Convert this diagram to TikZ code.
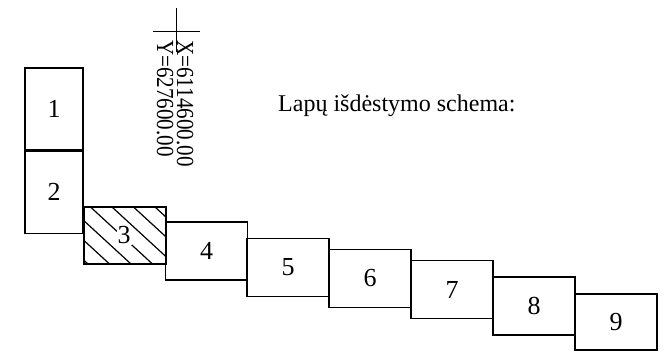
\documentclass[tikz,border=0pt]{standalone}
\usepackage{fontspec}
\setmainfont{Liberation Serif}
\usepackage{tikz}
\usetikzlibrary{positioning, calc}

\begin{document}
\begin{tikzpicture}[
			x=1pt, y=-1pt,
			sheet/.style={rectangle, draw, line width=1.2pt, minimum width=82pt, minimum height=58pt, inner sep=0pt, font=\fontsize{26}{26}\selectfont},
			tallsheet/.style={sheet, minimum width=58pt, minimum height=82pt},
			coordtext/.style={anchor=base west, rotate=-90, inner sep=0pt, font=\fontsize{24.5}{24.5}\selectfont},
			hatch/.style={line width=1.2pt}
		]
		\useasboundingbox (0,0) rectangle (668,352);
		% grid cross with coordinates
		\coordinate (cross) at (176,32);
		\draw[line width=1pt] ($(cross)+(0,-24)$) -- ($(cross)+(0,20)$);
		\draw[line width=1pt] ($(cross)+(-23,0)$) -- ($(cross)+(24,0)$);
		\node[coordtext] (xval) at (177,40) {\scalebox{0.86}[1]{X=6114600.00}};
		\node[coordtext] (yval) at (157,40) {\scalebox{0.86}[1]{Y=627600.00}};
		
		\node[anchor=base west, inner sep=0pt, font=\fontsize{24}{24}\selectfont] (title) at (278,112) {Lapų išdėstymo schema:};
		
		% sheets
		\node[tallsheet] (s1) at (54,109) {1};
		\node[tallsheet, below=0pt of s1] (s2) {2};
		\node[sheet, minimum height=57pt] (s3) at (125,235.5) {};
		\begin{scope}
			\clip (s3.north west) rectangle (s3.south east);
			\foreach \t in {26,47.5,69,90.5,112,133.5,155}
				\draw[hatch] (\t,207) -- ++(124,114);
		\end{scope}
		\node[sheet, minimum height=57pt] at (s3) {};
		\node[fill=white, inner sep=1pt, font=\fontsize{26}{26}\selectfont] (n3) at ($(s3)+(-1,0)$) {3};
		\node[sheet] (s4) at (206.5,251) {4};
		\node[sheet] (s5) at (288,267.5) {5};
		\node[sheet] (s6) at (370,278.5) {6};
		\node[sheet] (s7) at (452,289.5) {7};
		\node[sheet] (s8) at (534,306) {8};
		\node[sheet, minimum height=56pt] (s9) at (616,322) {9};
		\end{tikzpicture}
\end{document}
